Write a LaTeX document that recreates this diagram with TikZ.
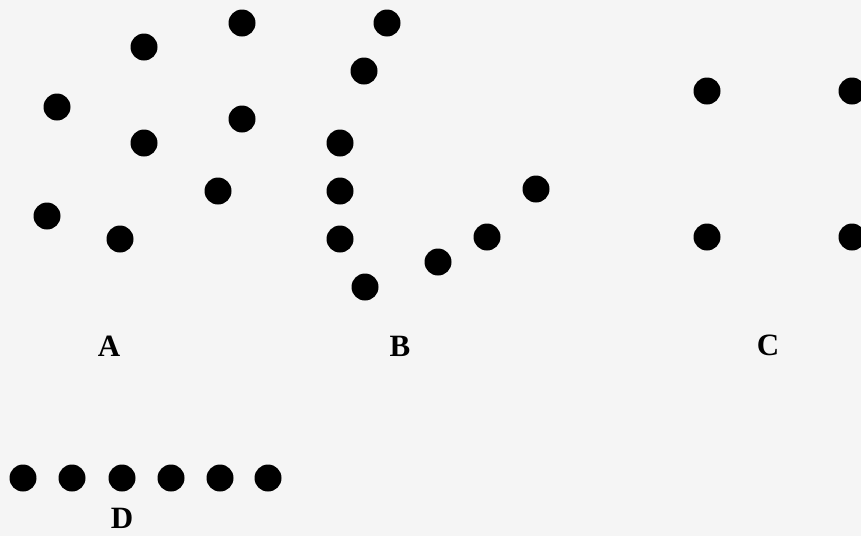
\documentclass[tikz,border=0pt]{standalone}
\usepackage{fontspec}
\setmainfont{Liberation Serif}
\usepackage{xcolor}
\usetikzlibrary{positioning}
\definecolor{paper}{HTML}{F5F5F5}

\begin{document}
\begin{tikzpicture}[
  x=1pt, y=-1pt,
  dot/.style={circle, fill=black, inner sep=0pt, minimum size=27pt},
  tag/.style={font=\bfseries\fontsize{31}{36}\selectfont, inner sep=0pt}
]
  \fill[paper] (0,0) rectangle (861,536);
  \useasboundingbox (0,0) rectangle (861,536);

  % group A
  \foreach \px/\py [count=\i] in {242/23, 144/47, 57/107, 144/143, 242/119, 218/191, 47/216, 120/239}
    \node[dot] (a\i) at (\px,\py) {};
  \node[tag] (labA) at (109,346) {A};

  % group B
  \foreach \px/\py [count=\i] in {387/23, 364/71, 340/143, 340/191, 340/239, 365/287, 438/262, 487/237, 536/189}
    \node[dot] (b\i) at (\px,\py) {};
  \node[tag] (labB) at (400,346) {B};

  % group C
  \foreach \px/\py [count=\i] in {707/91, 852/91, 707/237, 852/237}
    \node[dot] (c\i) at (\px,\py) {};
  \node[tag] (labC) at (768,345) {C};

  % group D
  \foreach \px [count=\i] in {23, 72, 122, 171, 220, 268}
    \node[dot] (d\i) at (\px,478) {};
  \node[tag, below=16pt of d3] (labD) {D};
\end{tikzpicture}
\end{document}
